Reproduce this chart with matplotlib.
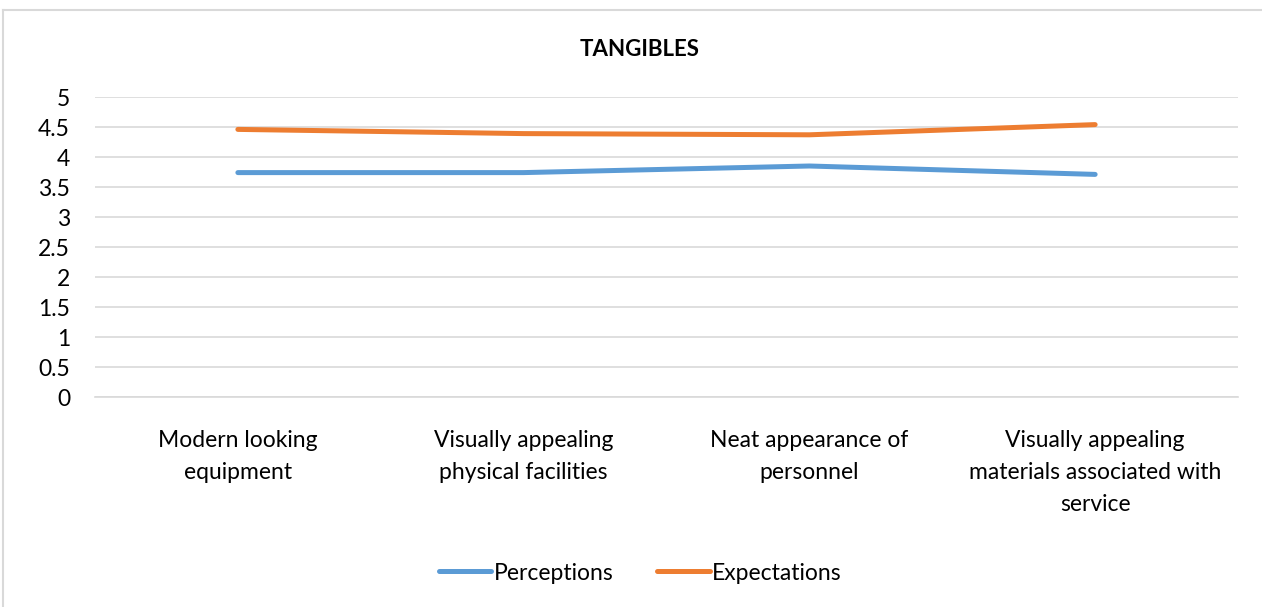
import matplotlib.pyplot as plt
from matplotlib.lines import Line2D

plt.rcParams['font.family'] = ['Lato', 'DejaVu Sans']

# data
categories = [
    "Modern looking\nequipment",
    "Visually appealing\nphysical facilities",
    "Neat appearance of\npersonnel",
    "Visually appealing\nmaterials associated with\nservice",
]
perceptions = [3.74, 3.74, 3.85, 3.71]
expectations = [4.46, 4.39, 4.37, 4.54]
yticks = [0, 0.5, 1, 1.5, 2, 2.5, 3, 3.5, 4, 4.5, 5]
ytick_labels = ["0", "0.5", "1", "1.5", "2", "2.5", "3", "3.5", "4", "4.5", "5"]

W, H = 1262, 607
fig = plt.figure(figsize=(W / 100, H / 100), dpi=100)
ax = fig.add_axes([95 / W, 1 - 397 / H, (1238 - 95) / W, 300 / H])

x = range(len(categories))
ax.plot(x, perceptions, color='#5B9BD5', lw=3.6, solid_capstyle='round', label='Perceptions')
ax.plot(x, expectations, color='#ED7D31', lw=3.6, solid_capstyle='round', label='Expectations')

ax.set_xlim(-0.5, len(categories) - 0.5)
ax.set_ylim(0, 5)
ax.set_yticks(yticks)
ax.set_yticklabels(ytick_labels)
ax.set_xticks(list(x))
ax.set_xticklabels(categories, linespacing=1.65, va='top')
ax.tick_params(axis='both', length=0, labelsize=16.5, colors='#000000')
ax.tick_params(axis='y', pad=18)
ax.tick_params(axis='x', pad=24)

ax.grid(axis='y', color='#d9d9d9', lw=1.2)
ax.set_axisbelow(True)
for s in ['top', 'right', 'left']:
    ax.spines[s].set_visible(False)
ax.spines['bottom'].set_color('#d9d9d9')
ax.spines['bottom'].set_linewidth(1.2)

fig.text(640 / W, 1 - 50 / H, "TANGIBLES", ha='center', va='center',
         fontsize=16, fontweight='bold')

# legend
handles = [Line2D([], [], color='#5B9BD5', lw=3.6, solid_capstyle='round'),
           Line2D([], [], color='#ED7D31', lw=3.6, solid_capstyle='round')]
fig.legend(handles, ['Perceptions', 'Expectations'], loc='center',
           bbox_to_anchor=(640 / W, 1 - 573 / H), ncol=2, frameon=False,
           fontsize=16.5, handlelength=2.3, handletextpad=0.1, columnspacing=1.9)

# chart border
fig.add_artist(Line2D([3 / W, 3 / W], [0, 1 - 10 / H], color='#d9d9d9', lw=1.5,
                      transform=fig.transFigure))
fig.add_artist(Line2D([3 / W, 1], [1 - 10 / H, 1 - 10 / H], color='#d9d9d9', lw=1.5,
                      transform=fig.transFigure))

fig.savefig('out.png', dpi=100)
